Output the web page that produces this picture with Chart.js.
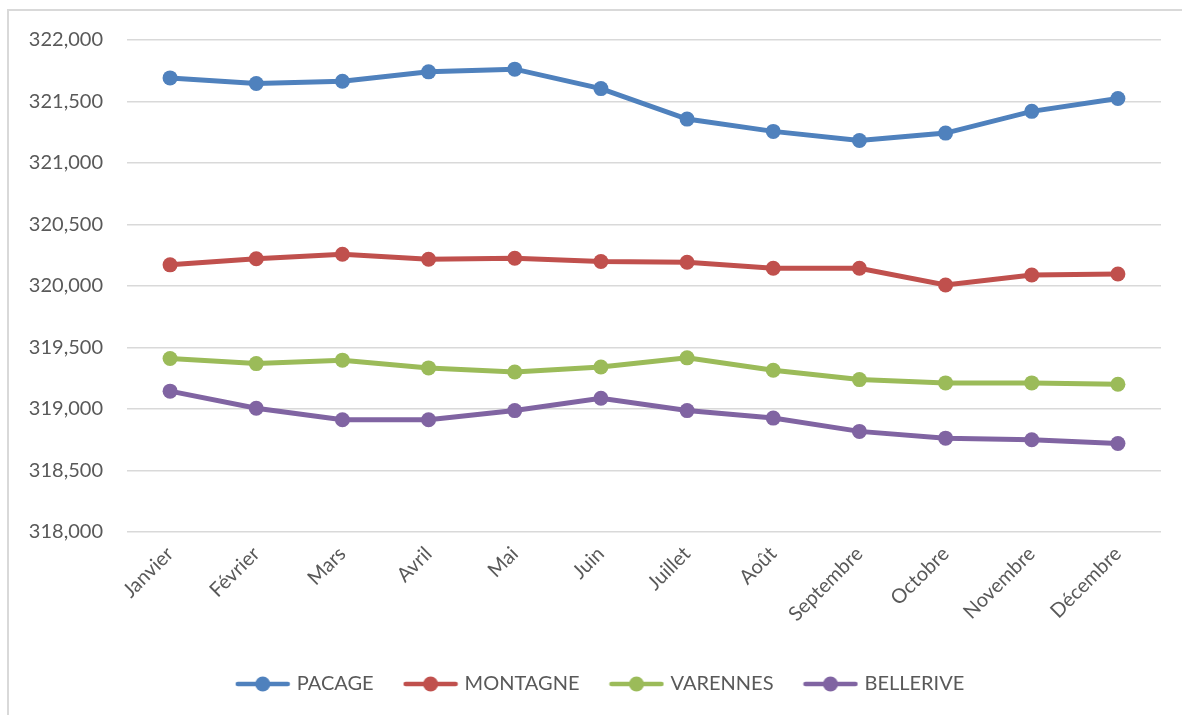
<!DOCTYPE html>
<html>
<head>
<meta charset="utf-8">
<script src="https://cdn.jsdelivr.net/npm/chart.js@4/dist/chart.umd.min.js"></script>
<style>
    body { margin: 0; background: #fff; overflow: hidden; }
    #wrap { position: relative; width: 1182px; height: 715px; overflow: hidden; }
    #frame { position: absolute; left: 7px; top: 9px; right: 0; bottom: 0; border-left: 2px solid #D9D9D9; border-top: 2px solid #D9D9D9; }
    canvas { position: absolute; left: 0; top: 0; }
</style>
</head>
<body>
<div id="wrap">
    <div id="frame"></div>
    <canvas id="chart" width="1182" height="704"></canvas>
</div>
<script>
// Months on the x axis
const months = ['Janvier', 'Février', 'Mars', 'Avril', 'Mai', 'Juin', 'Juillet', 'Août', 'Septembre', 'Octobre', 'Novembre', 'Décembre'];

// Series values
const pacage    = [321692, 321646, 321665, 321741, 321763, 321605, 321357, 321257, 321183, 321243, 321420, 321524];
const montagne  = [320172, 320221, 320258, 320217, 320226, 320199, 320193, 320144, 320144, 320008, 320090, 320098];
const varennes  = [319410, 319369, 319397, 319334, 319301, 319342, 319416, 319315, 319239, 319212, 319212, 319201];
const bellerive = [319145, 319006, 318913, 318913, 318987, 319087, 318987, 318926, 318818, 318763, 318750, 318720];

// Y axis range
const yMin = 318000;
const yMax = 322000;
const yStep = 500;

const seriesNames = ['PACAGE', 'MONTAGNE', 'VARENNES', 'BELLERIVE'];
const seriesData = [pacage, montagne, varennes, bellerive];
const colors = ['#4F81BD', '#C0504D', '#9BBB59', '#8064A2'];

const FONT = 'Lato, "Open Sans", sans-serif';

// legend marker: line with a dot in the middle
function legendMarker(color) {
    const c = document.createElement('canvas');
    c.width = 56;
    c.height = 16;
    const g = c.getContext('2d');
    g.strokeStyle = color;
    g.lineWidth = 4.5;
    g.lineCap = 'round';
    g.beginPath();
    g.moveTo(3, 8);
    g.lineTo(53, 8);
    g.stroke();
    g.fillStyle = color;
    g.beginPath();
    g.arc(28, 8, 7.5, 0, Math.PI * 2);
    g.fill();
    return c;
}

const datasets = seriesNames.map((name, i) => ({
    label: name,
    data: seriesData[i],
    borderColor: colors[i],
    backgroundColor: colors[i],
    borderWidth: 5,
    pointRadius: 7.5,
    pointHoverRadius: 7.5,
    pointBorderWidth: 0,
    pointBackgroundColor: colors[i],
    pointStyle: 'circle',
    legendImg: legendMarker(colors[i]),
    tension: 0
}));

// legend sits a bit right of the canvas centre in the original
const shiftLegend = {
    id: 'shiftLegend',
    afterLayout(chart) {
        chart.legend.left += 21;
        chart.legend.right += 21;
    }
};

new Chart(document.getElementById('chart'), {
    type: 'line',
    data: { labels: months, datasets: datasets },
    plugins: [shiftLegend],
    options: {
        responsive: false,
        animation: false,
        layout: { padding: { top: 40, left: 0, right: 21, bottom: 0 } },
        scales: {
            x: {
                offset: true,
                grid: { display: false },
                border: { display: false },
                ticks: {
                    color: '#595959',
                    font: { family: FONT, size: 20 },
                    minRotation: 45,
                    maxRotation: 45,
                    autoSkip: false,
                    padding: 2
                },
                afterFit: s => { s.height = 109; }
            },
            y: {
                min: yMin,
                max: yMax,
                grid: { color: '#D9D9D9', lineWidth: 1.6, drawTicks: false },
                border: { display: false },
                ticks: {
                    stepSize: yStep,
                    color: '#595959',
                    font: { family: FONT, size: 20 },
                    padding: 24,
                    callback: v => v.toLocaleString('en-US')
                },
                afterFit: s => { s.width = 127; }
            }
        },
        plugins: {
            tooltip: { enabled: false },
            legend: {
                position: 'bottom',
                labels: {
                    usePointStyle: true,
                    pointStyleWidth: 48,
                    padding: 33,
                    color: '#595959',
                    font: { family: FONT, size: 20 },
                    generateLabels: chart => chart.data.datasets.map((d, i) => ({
                        text: d.label,
                        pointStyle: d.legendImg,
                        fillStyle: d.borderColor,
                        strokeStyle: d.borderColor,
                        lineWidth: 0,
                        hidden: false,
                        datasetIndex: i,
                        fontColor: '#595959'
                    }))
                }
            }
        }
    }
});
</script>
</body>
</html>
